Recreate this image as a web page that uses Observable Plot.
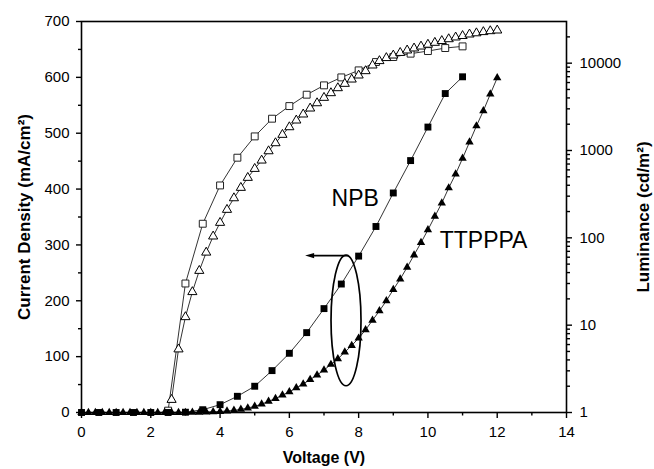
<!DOCTYPE html>
<html><head><meta charset="utf-8">
<script src="https://cdn.jsdelivr.net/npm/d3@7"></script>
<script src="https://cdn.jsdelivr.net/npm/@observablehq/plot@0.6"></script>
<style>
body{margin:0;background:#fff;}
#wrap{position:relative;width:654px;height:469px;}
#wrap svg{position:absolute;left:0;top:0;overflow:visible;}
</style></head><body><div id="wrap"></div>
<script>
// ---- Data ----
// Current density (left axis, mA/cm²), filled symbols
const npbCurV = [0,0.5,1,1.5,2,2.5,3,3.5,4,4.5,5,5.5,6,6.5,7,7.5,8,8.5,9,9.5,10,10.5,11];
const npbCur  = [0,0,0,0,0,0,0.5,5,14,29,47,75,106,143,186,230,280,333,393,451,511,571,601];
const ttpCurV = [0,0.2,0.4,0.6,0.8,1,1.2,1.4,1.6,1.8,2,2.2,2.4,2.6,2.8,3,3.2,3.4,3.6,3.8,4,4.2,4.4,4.6,4.8,5,5.2,5.4,5.6,5.8,6,6.2,6.4,6.6,6.8,7,7.2,7.4,7.6,7.8,8,8.2,8.4,8.6,8.8,9,9.2,9.4,9.6,9.8,10,10.2,10.4,10.6,10.8,11,11.2,11.4,11.6,11.8,12];
const ttpCur  = [0,0,0,0,0,0,0,0,0,0,0,0,0,0,0,0,0.3,0.5,0.8,1.2,1.8,2.6,3.8,5.5,8,11,15,20,25,31,37,44,51,59,67,76,86,96,108,120,133,148,165,182,200,220,239,260,282,304,327,351,375,402,427,455,484,513,540,570,599];
// Luminance (right axis, cd/m², log), open symbols
const npbLumV = [2.5,3,3.5,4,4.5,5,5.5,6,6.5,7,7.5,8,8.5,9,9.5,10,10.5,11];
const npbLum  = [1.05,30,145,398,827,1450,2313,3226,4355,5570,6870,8270,10300,11750,12850,13760,14900,15570];
const ttpLumV = [2.6,2.8,3,3.2,3.4,3.6,3.8,4,4.2,4.4,4.6,4.8,5,5.2,5.4,5.6,5.8,6,6.2,6.4,6.6,6.8,7,7.2,7.4,7.6,7.8,8,8.2,8.4,8.6,8.8,9,9.2,9.4,9.6,9.8,10,10.2,10.4,10.6,10.8,11,11.2,11.4,11.6,11.8,12];
const ttpLum  = [1.4,5.3,12.4,24,42,68,104,149,210,285,375,488,618,770,984,1216,1517,1854,2213,2594,3036,3490,4025,4550,5190,5820,6520,7250,8130,9440,10600,11480,12280,13150,14030,14790,15560,16340,17170,17990,18880,19760,20550,21380,22070,22770,23330,23750];
// Ticks
const xTicks = [0,2,4,6,8,10,12,14];
const xMinor = [1,3,5,7,9,11,13];
const yTicks = [0,100,200,300,400,500,600,700];
const yMinor = [50,150,250,350,450,550,650];
const lumTicks = [1,10,100,1000,10000];
const lumMinor = [2,3,4,5,6,7,8,9,20,30,40,50,60,70,80,90,200,300,400,500,600,700,800,900,2000,3000,4000,5000,6000,7000,8000,9000,20000];
// Annotations
const seriesLabels = [{v:7.22, j:369, text:"NPB"},{v:10.34, j:295, text:"TTPPPA"}];
const ellipseNote = {v:7.65, j:164, rv:0.433, rj:117};
const arrowNote = {v1:7.72, v2:6.47, j:280};

const rows = (xs, ys) => xs.map((x,i)=>({x, y: ys[i]}));
const font = "Arial, 'Liberation Sans', Helvetica, sans-serif";
const common = {width:654, height:469, marginTop:21, marginRight:88, marginBottom:57, marginLeft:81,
  style:{background:"transparent", fontFamily:font, fontSize:"15px", color:"#000", overflow:"visible"}};

const cur = Plot.plot({
  ...common,
  x:{domain:[0,14]},
  y:{domain:[0,700]},
  marks:[
    Plot.axisX(xTicks,{tickSize:6, tickPadding:8, fontSize:15, label:null, strokeWidth:1.4}),
    Plot.axisX(xMinor,{tickSize:3.5, tickFormat:()=>"", label:null, strokeWidth:1.4}),
    Plot.axisY(yTicks,{tickSize:5, tickPadding:7, fontSize:15, label:null, strokeWidth:1.4}),
    Plot.axisY(yMinor,{tickSize:3, tickFormat:()=>"", label:null, strokeWidth:1.4}),
    Plot.frame({stroke:"black", strokeWidth:1.6}),
    Plot.line(rows(npbCurV,npbCur),{x:"x", y:"y", stroke:"black", strokeWidth:0.8}),
    Plot.line(rows(ttpCurV,ttpCur),{x:"x", y:"y", stroke:"black", strokeWidth:0.8}),
    Plot.dot(rows(ttpCurV,ttpCur),{x:"x", y:"y", symbol:"triangle", r:3.1, fill:"black", stroke:null}),
    Plot.dot(rows(npbCurV,npbCur),{x:"x", y:"y", symbol:"square", r:3.9, fill:"black", stroke:null}),
    Plot.text(seriesLabels,{x:"v", y:"j", text:"text", textAnchor:"start", lineAnchor:"bottom", fontSize:23, fill:"black"}),
    Plot.text(["Voltage (V)"],{frameAnchor:"bottom", dy:45, lineAnchor:"middle", fontWeight:"bold", fontSize:16}),
    Plot.text(["Current Density (mA/cm²)"],{frameAnchor:"left", dx:-57, rotate:-90, textAnchor:"middle", lineAnchor:"middle", fontWeight:"bold", fontSize:17})
  ]
});

const lum = Plot.plot({
  ...common,
  x:{domain:[0,14], axis:null},
  y:{type:"log", domain:[1,30000], axis:null},
  marks:[
    Plot.axisY(lumTicks,{anchor:"right", tickSize:5, tickPadding:8, fontSize:15, label:null, tickFormat:d=>String(d), strokeWidth:1.4}),
    Plot.axisY(lumMinor,{anchor:"right", tickSize:3, tickFormat:()=>"", label:null, strokeWidth:1.4}),
    Plot.line(rows(npbLumV,npbLum),{x:"x", y:"y", stroke:"black", strokeWidth:0.8}),
    Plot.line(rows(ttpLumV,ttpLum),{x:"x", y:"y", stroke:"black", strokeWidth:0.8}),
    Plot.dot(rows(npbLumV,npbLum),{x:"x", y:"y", symbol:"square", r:3.9, fill:"white", stroke:"#222", strokeWidth:1}),
    Plot.dot(rows(ttpLumV,ttpLum),{x:"x", y:"y", symbol:"triangle", r:3.4, fill:"white", stroke:"black", strokeWidth:1}),
    Plot.text(["Luminance (cd/m²)"],{frameAnchor:"right", dx:77, rotate:-90, textAnchor:"middle", lineAnchor:"middle", fontWeight:"bold", fontSize:17})
  ]
});

const wrap = document.getElementById("wrap");
wrap.append(lum);
wrap.append(cur);

// ellipse and arrow annotations placed through the plot's scales
const sx = cur.scale("x"), sy = cur.scale("y");
const svg = d3.select(cur);
const cx = sx.apply(ellipseNote.v), cy = sy.apply(ellipseNote.j);
svg.append("ellipse")
  .attr("cx", cx).attr("cy", cy)
  .attr("rx", Math.abs(sx.apply(ellipseNote.v + ellipseNote.rv) - cx))
  .attr("ry", Math.abs(sy.apply(ellipseNote.j + ellipseNote.rj) - cy))
  .attr("fill","none").attr("stroke","black").attr("stroke-width",1.7);
const ax1 = sx.apply(arrowNote.v1), ax2 = sx.apply(arrowNote.v2), ay = sy.apply(arrowNote.j);
svg.append("line").attr("x1",ax1).attr("x2",ax2+7).attr("y1",ay).attr("y2",ay)
  .attr("stroke","black").attr("stroke-width",1.6);
svg.append("path").attr("d",`M${ax2},${ay}L${ax2+9},${ay-2.6}L${ax2+9},${ay+2.6}Z`).attr("fill","black");
</script></body></html>
